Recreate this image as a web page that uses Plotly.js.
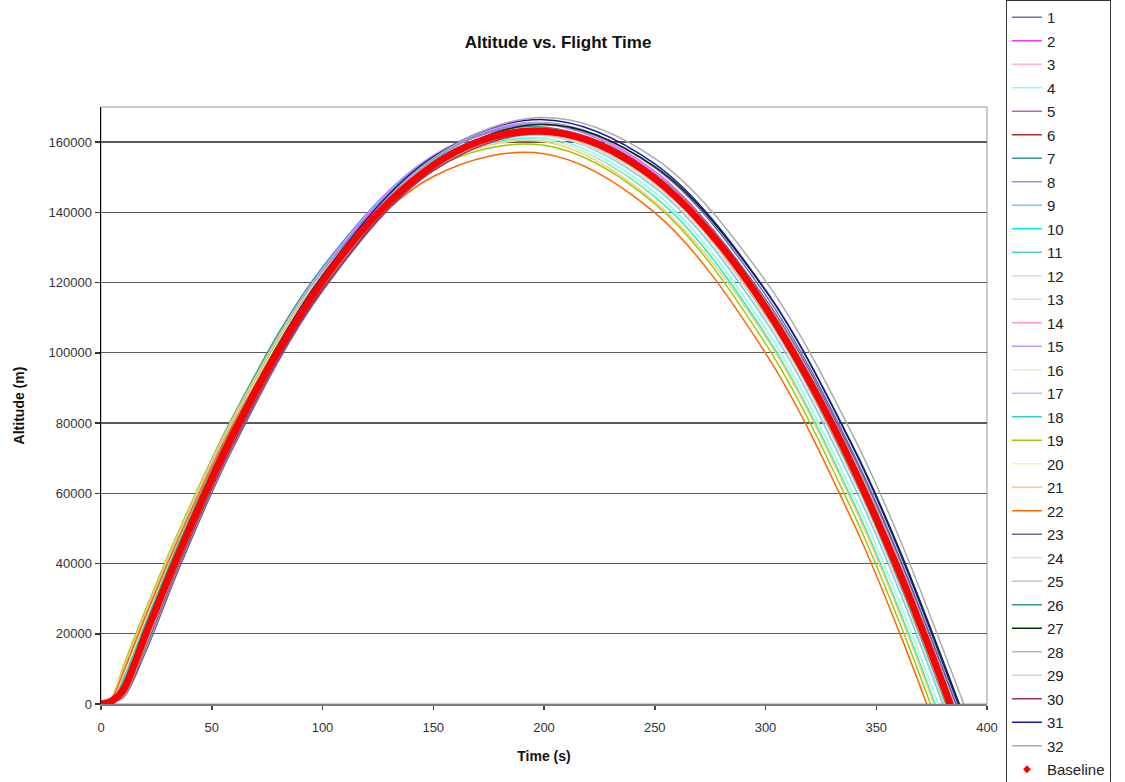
<!DOCTYPE html>
<html>
<head>
<meta charset="utf-8">
<script src="https://cdn.plot.ly/plotly-3.0.1.min.js"></script>
<style>
html,body{margin:0;padding:0;background:#fff;}
#chart{width:1125px;height:782px;}
</style>
</head>
<body>
<div id="chart"></div>
<script>
// Common sample times (s) for the 32 runs; each run then ends at its landing time.
const T = [0, 5, 10, 20, 35, 60, 100, 150, 200, 250, 300, 340, 360];
const LAND = [386, 384, 382, 378, 385, 383, 381, 384, 380, 376.5, 381, 383, 382, 383, 383.5, 381,
              384, 382, 374.5, 377.5, 376, 372.8, 386, 384, 385, 381.5, 387.5, 385, 382, 384.5, 387, 389.5];

// Altitude (m) of each run at the times in T
const S1  = [0,1100,3800,19600,43100,77900,121600,155200,165500,152700,116500,70900,42500];
const S2  = [0,1500,6600,22800,46100,80500,123300,156000,165500,151700,114600,68200,39400];
const S3  = [0,1100,5000,21000,44200,78500,121200,153600,162800,148800,111500,64900,36100];
const S4  = [0,1500,8700,24700,47500,81000,122500,153500,161200,145700,106900,59200,29700];
const S5  = [0,800,2600,18200,41700,76500,120100,153600,164000,151000,114900,69200,40800];
const S6  = [0,800,2800,18400,41700,76300,119500,152600,162400,148900,112200,66100,37500];
const S7  = [0,2000,9400,25600,48600,82400,124400,156000,164300,149400,111200,63900,34700];
const S8  = [0,1100,5600,21800,45100,79500,122600,155400,165000,151300,114400,68100,39400];
const S9  = [0,1500,6500,22600,45600,79500,121600,153400,161900,147100,109100,62000,32900];
const S10 = [0,2000,10100,26100,48800,82000,123000,153500,160600,144500,105200,57000,27300];
const S11 = [0,1500,7500,23600,46700,80600,122800,154700,163300,148600,110700,63700,34600];
const S12 = [0,1100,3800,19400,42700,77200,120300,153200,162900,149300,112500,66300,37600];
const S13 = [0,1100,4300,20000,43200,77600,120400,153000,162300,148400,111300,64800,36000];
const S14 = [0,1100,5300,21400,44700,79000,121900,154500,163900,150000,112900,66500,37700];
const S15 = [0,1500,7400,23600,46800,81100,123800,156200,165500,151400,114100,67500,38700];
const S16 = [0,1100,5000,20900,44100,78200,120700,153000,161900,147700,110100,63400,34400];
const S17 = [0,800,3200,18800,42200,76800,120200,153400,163400,150200,113700,67700,39200];
const S18 = [0,1500,6900,23000,46100,80300,122700,154900,163800,149500,111900,65200,36200];
const S19 = [0,2000,10600,26600,49100,82000,122700,152500,159100,142500,102600,53900,24000];
const S20 = [0,1500,8100,24000,46800,80300,121800,152800,160500,144900,106100,58300,28800];
const S21 = [0,2000,9900,25900,48500,81700,122700,153000,160100,143100,104500,56200,26500];
const S22 = [0,1800,8900,24700,47100,80000,120500,150200,156700,139900,99900,51100,21100];
const S23 = [0,600,1800,14600,38200,73400,117600,151900,162900,150800,115300,70200,42100];
const S24 = [0,800,2200,16900,40200,75000,118600,152100,162400,149400,113200,67500,39000];
const S25 = [0,800,2300,17200,40700,75600,119300,153000,163400,150700,114600,69100,40700];
const S26 = [0,1100,5900,22000,45100,79200,121700,153900,162900,148600,111000,64300,35300];
const S27 = [0,800,2100,16200,39800,75100,119400,153800,165000,153000,117700,72700,44700];
const S28 = [0,800,2100,16200,39700,74700,118500,152300,162900,150300,114400,68900,40600];
const S29 = [0,1100,3800,19400,42600,77000,119900,152500,162000,148200,111100,64700,35900];
const S30 = [0,800,2100,16000,39500,74400,118100,151900,162400,149700,113700,68100,39800];
const S31 = [0,1100,3800,19600,43200,78200,122000,155800,166400,153800,117900,72400,44100];
const S32 = [0,800,2100,16500,40400,75800,120500,155400,167000,155400,120500,75800,47900];

// Baseline trajectory
const BASE_T = [0,5,10,15,20,25,30,40,50,60,80,100,120,140,160,180,200,220,240,260,280,300,320,340,360,370,380,383.3];
const BASE_H = [0,900,3900,11200,19600,27300,35100,50000,64100,77200,100600,120300,136300,148600,157200,162000,
                163100,160500,154200,144200,130400,112900,91700,66800,38100,22400,5800,0];

const NAMES = ['1','2','3','4','5','6','7','8','9','10','11','12','13','14','15','16',
               '17','18','19','20','21','22','23','24','25','26','27','28','29','30','31','32'];
const COLORS = ['#6b6bb8','#ff33ff','#ffb3d9','#80ffff','#b366b3','#a03030','#339999','#8c8cff',
                '#66ccff','#00f0f0','#4dcccc','#d9d9d9','#c6e0ff','#ff99cc','#c299ff','#ffe0c2',
                '#b3c2ff','#33cccc','#99cc00','#fff0a8','#ffc880','#ff6600','#666699','#dcdcdc',
                '#b0c4de','#339966','#003300','#b0bca5','#e6cbbd','#993366','#1a1aa0','#aaaaaa'];

const SERIES = [S1,S2,S3,S4,S5,S6,S7,S8,S9,S10,S11,S12,S13,S14,S15,S16,
                S17,S18,S19,S20,S21,S22,S23,S24,S25,S26,S27,S28,S29,S30,S31,S32];

const traces = SERIES.map((s, i) => ({
  type: 'scatter', mode: 'lines', name: NAMES[i], legendgroup: 'g' + i,
  x: T.concat([LAND[i]]), y: s.concat([0]),
  line: {color: COLORS[i], width: 1.5, shape: 'spline'}
}));
traces.push({
  type: 'scatter', mode: 'lines', name: 'Baseline', legendgroup: 'base', showlegend: false,
  x: BASE_T, y: BASE_H, line: {color: '#ff0000', width: 7, shape: 'spline'}
});
traces.push({
  type: 'scatter', mode: 'markers', name: 'Baseline', legendgroup: 'base',
  x: BASE_T, y: BASE_H, marker: {color: '#ff0000', size: 6, symbol: 'diamond'}
});

const FONT = 'Liberation Sans, Arial, sans-serif';
const layout = {
  width: 1125, height: 782,
  paper_bgcolor: '#ffffff', plot_bgcolor: '#ffffff',
  margin: {l: 101, r: 138, t: 103, b: 78},
  font: {family: FONT, color: '#222'},
  title: {text: 'Altitude vs. Flight Time', font: {family: FONT, size: 17, weight: 'bold', color: '#111'},
          x: 0.496, xref: 'container', xanchor: 'center', y: 0.946, yref: 'container', yanchor: 'middle'},
  xaxis: {
    range: [0, 400], dtick: 50, tick0: 0, ticks: 'outside', ticklen: 4, tickcolor: '#444', tickwidth: 1.5,
    showline: true, linecolor: '#808080', linewidth: 2, showgrid: false, zeroline: false,
    ticklabelstandoff: 6,
    tickfont: {family: FONT, size: 13, color: '#333'},
    title: {text: 'Time (s)', font: {family: FONT, size: 14, weight: 'bold', color: '#111'}, standoff: 18}
  },
  yaxis: {
    range: [0, 170000], dtick: 20000, tick0: 0, ticks: 'outside', ticklen: 5, tickcolor: '#333', tickwidth: 1.5,
    showline: true, linecolor: '#000', linewidth: 1.5, showgrid: true, gridcolor: '#5a5a5a', gridwidth: 1.3,
    zeroline: false, tickformat: 'd',
    tickfont: {family: FONT, size: 13, color: '#333'},
    title: {text: 'Altitude (m)', font: {family: FONT, size: 14, weight: 'bold', color: '#111'}, standoff: 20}
  },
  shapes: [{type: 'rect', xref: 'paper', yref: 'paper', x0: 0, x1: 1, y0: 0, y1: 1,
            line: {color: '#9a9a9a', width: 1}, layer: 'below'}],
  legend: {
    x: 1.0214, xanchor: 'left', y: 1.1597, yanchor: 'top', maxheight: 900,
    bgcolor: '#ffffff', bordercolor: '#333', borderwidth: 1,
    font: {family: FONT, size: 15, color: '#222'}, tracegroupgap: 1
  },
  showlegend: true
};

Plotly.newPlot('chart', traces, layout, {displayModeBar: false, staticPlot: true});
</script>
</body>
</html>
